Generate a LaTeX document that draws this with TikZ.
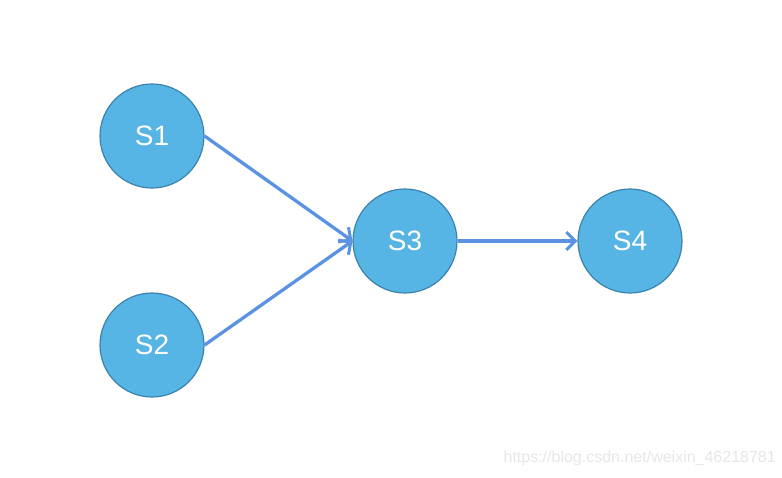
\documentclass[tikz,border=0pt]{standalone}
\usepackage{fontspec}
\setmainfont{Liberation Sans}
\usetikzlibrary{arrows.meta}
\definecolor{StateBlue}{HTML}{56B5E4}
\definecolor{StateRim}{HTML}{3B82AD}
\definecolor{LinkBlue}{HTML}{5B93E2}
\definecolor{MarkGray}{HTML}{E6E6E6}

\begin{document}
\begin{tikzpicture}[
      x=1pt, y=-1pt,
      state/.style={
        circle,
        draw=StateRim,
        line width=1.2pt,
        fill=StateBlue,
        minimum size=104pt,
        inner sep=0pt,
        text=white,
        font=\fontsize{28}{30}\selectfont
      },
      link/.style={-{Straight Barb[length=9pt,width=18pt,line width=3pt]}, line width=3.3pt, draw=LinkBlue}
    ]
    \useasboundingbox (0,0) rectangle (782,477);
    \node[state] (s1) at (152,136) {S1};
    \node[state] (s2) at (152,345) {S2};
    \node[state] (s3) at (405,241) {S3};
    \node[state] (s4) at (630,241) {S4};

    \draw[link] (s1.east) -- (s3.west);
    \draw[link] (s2.east) -- (s3.west);
    \draw[link] (s3.east) -- (s4.west);

    \node[anchor=east, text=MarkGray, font=\fontsize{16}{18}\selectfont, inner sep=0pt] (mark) at (776,458) {https://blog.csdn.net/weixin\_46218781};
  \end{tikzpicture}
\end{document}
